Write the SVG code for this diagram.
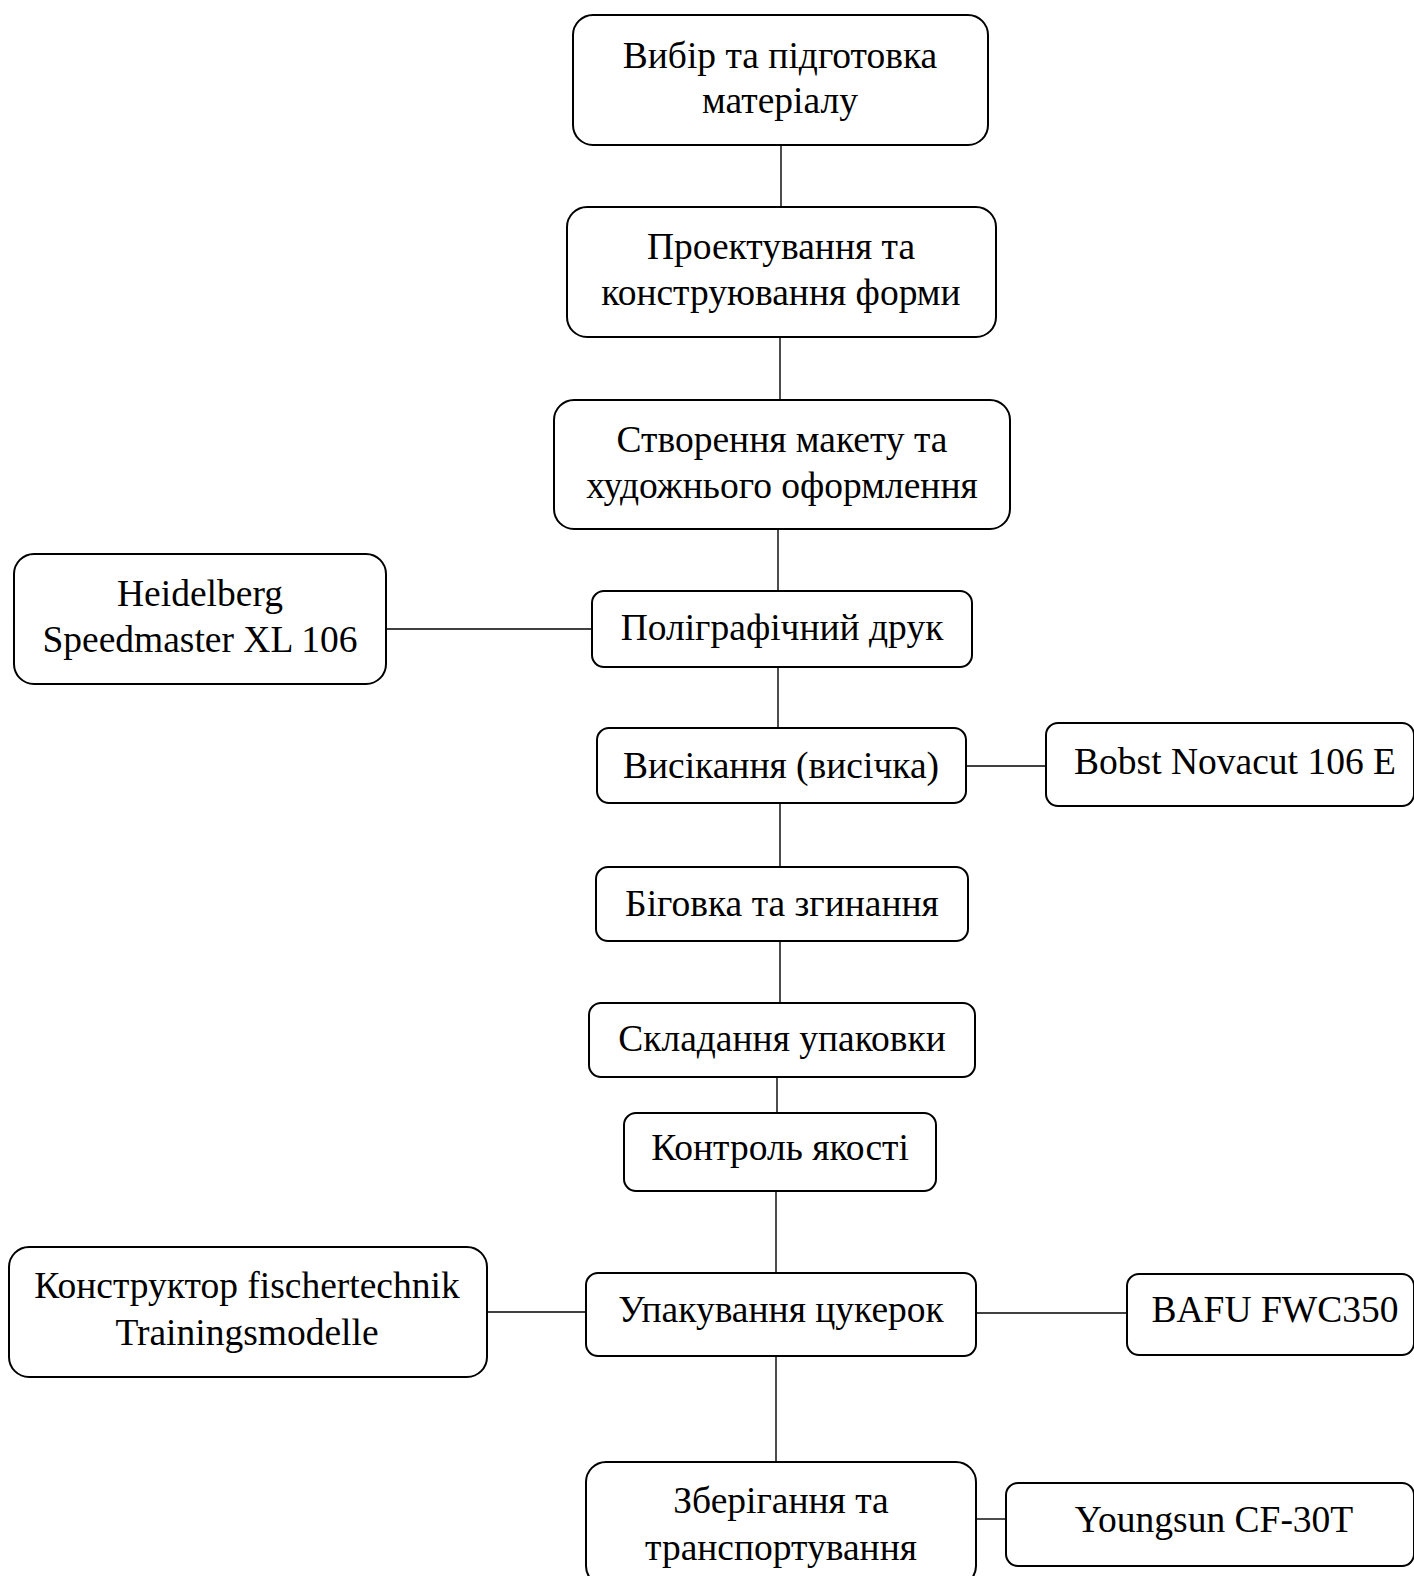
<svg xmlns="http://www.w3.org/2000/svg" width="1414" height="1576" viewBox="0 0 1414 1576">
<style>
.n rect{fill:#fff;stroke:#000;stroke-width:2}
.n text{font-family:"Liberation Serif","Times New Roman",serif;font-size:37.5px;fill:#000;text-anchor:middle}
#connectors line{stroke:#000;stroke-width:1.4}
</style>
<rect width="1414" height="1576" fill="#fff"/>
<g id="connectors">
<line x1="781" y1="145" x2="781" y2="207"/>
<line x1="780" y1="337" x2="780" y2="400"/>
<line x1="778" y1="529" x2="778" y2="591"/>
<line x1="778" y1="667" x2="778" y2="728"/>
<line x1="780" y1="803" x2="780" y2="867"/>
<line x1="780" y1="941" x2="780" y2="1003"/>
<line x1="777" y1="1077" x2="777" y2="1113"/>
<line x1="776" y1="1191" x2="776" y2="1273"/>
<line x1="776" y1="1356" x2="776" y2="1462"/>
<line x1="386" y1="629" x2="592" y2="629"/>
<line x1="966" y1="766" x2="1046" y2="766"/>
<line x1="487" y1="1312" x2="586" y2="1312"/>
<line x1="976" y1="1313" x2="1127" y2="1313"/>
<line x1="976" y1="1519" x2="1006" y2="1519"/>
</g>
<g id="n1" class="n"><rect x="573" y="15" width="415" height="130" rx="20"/><text x="780" y="68">Вибір та підготовка</text><text x="780" y="113">матеріалу</text></g>
<g id="n2" class="n"><rect x="567" y="207" width="429" height="130" rx="20"/><text x="781" y="259">Проектування та</text><text x="781" y="305">конструювання форми</text></g>
<g id="n3" class="n"><rect x="554" y="400" width="456" height="129" rx="20"/><text x="782" y="452">Створення макету та</text><text x="782" y="498">художнього оформлення</text></g>
<g id="n4" class="n"><rect x="14" y="554" width="372" height="130" rx="20"/><text x="200" y="606">Heidelberg</text><text x="200" y="652">Speedmaster XL 106</text></g>
<g id="n5" class="n"><rect x="592" y="591" width="380" height="76" rx="12"/><text x="782" y="640">Поліграфічний друк</text></g>
<g id="n6" class="n"><rect x="597" y="728" width="369" height="75" rx="12"/><text x="781" y="778">Висікання (висічка)</text></g>
<g id="n7" class="n"><rect x="1046" y="723" width="368" height="83" rx="12"/><text x="1235" y="774">Bobst Novacut 106 E</text></g>
<g id="n8" class="n"><rect x="596" y="867" width="372" height="74" rx="12"/><text x="782" y="916">Біговка та згинання</text></g>
<g id="n9" class="n"><rect x="589" y="1003" width="386" height="74" rx="12"/><text x="782" y="1051">Складання упаковки</text></g>
<g id="n10" class="n"><rect x="624" y="1113" width="312" height="78" rx="12"/><text x="780" y="1160">Контроль якості</text></g>
<g id="n11" class="n"><rect x="586" y="1273" width="390" height="83" rx="12"/><text x="781" y="1322">Упакування цукерок</text></g>
<g id="n12" class="n"><rect x="9" y="1247" width="478" height="130" rx="20"/><text x="247" y="1298">Конструктор fischertechnik</text><text x="247" y="1345">Trainingsmodelle</text></g>
<g id="n13" class="n"><rect x="1127" y="1274" width="287" height="81" rx="12"/><text x="1275" y="1322">BAFU FWC350</text></g>
<g id="n14" class="n"><rect x="586" y="1462" width="390" height="124" rx="20"/><text x="781" y="1513">Зберігання та</text><text x="781" y="1560">транспортування</text></g>
<g id="n15" class="n"><rect x="1006" y="1483" width="408" height="83" rx="12"/><text x="1214" y="1532">Youngsun CF-30T</text></g>
</svg>
